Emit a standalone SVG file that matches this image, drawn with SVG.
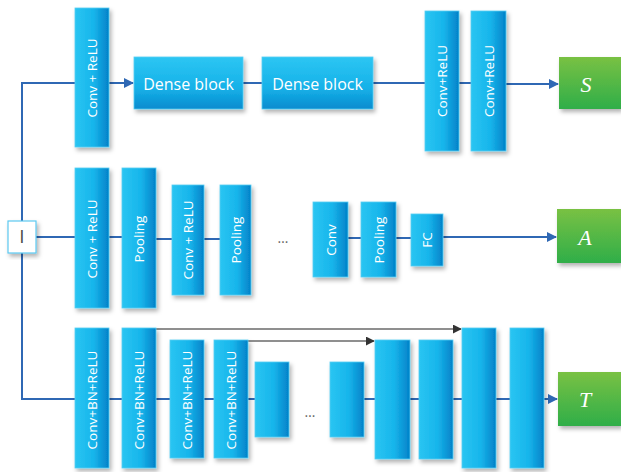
<svg xmlns="http://www.w3.org/2000/svg" width="621" height="472" viewBox="0 0 621 472">
  <defs>
    <linearGradient id="gBar" x1="0" y1="0" x2="1" y2="0">
      <stop offset="0" stop-color="#2ac5f2"/>
      <stop offset="0.55" stop-color="#17b5eb"/>
      <stop offset="1" stop-color="#0381c8"/>
    </linearGradient>
    <linearGradient id="gDense" x1="0" y1="0" x2="0" y2="1">
      <stop offset="0" stop-color="#2cc6f3"/>
      <stop offset="0.6" stop-color="#16b1e8"/>
      <stop offset="1" stop-color="#068bcf"/>
    </linearGradient>
    <linearGradient id="gOut" x1="0" y1="0" x2="0" y2="1">
      <stop offset="0" stop-color="#79c143"/>
      <stop offset="1" stop-color="#2fae48"/>
    </linearGradient>
    <filter id="shadow" x="-20%" y="-10%" width="150%" height="130%">
      <feDropShadow dx="2" dy="3" stdDeviation="2" flood-color="#000" flood-opacity="0.3"/>
    </filter>
    <marker id="arrBlue" viewBox="0 0 10 10" refX="9" refY="5" markerWidth="5" markerHeight="5" orient="auto" markerUnits="strokeWidth">
      <path d="M0,0 L10,5 L0,10 z" fill="#2f68b4"/>
    </marker>
    <marker id="arrDark" viewBox="0 0 10 10" refX="9" refY="5" markerWidth="6" markerHeight="6" orient="auto" markerUnits="strokeWidth">
      <path d="M0,0 L10,5 L0,10 z" fill="#333"/>
    </marker>
  </defs>
  <style>
    .bar { fill: url(#gBar); stroke: #55cdf3; stroke-width: 0.8; filter: url(#shadow); }
    .dense { fill: url(#gDense); stroke: #55cdf3; stroke-width: 0.8; filter: url(#shadow); }
    .out { fill: url(#gOut); filter: url(#shadow); }
    .lbl { font-family: "Open Sans", "Noto Sans", sans-serif; font-size: 13.5px; fill: #fff; text-anchor: middle; dominant-baseline: central; }
    .dlbl { font-family: "Open Sans", "Noto Sans", sans-serif; font-size: 16px; fill: #fff; text-anchor: middle; dominant-baseline: central; }
    .olbl { font-family: "Liberation Serif", "DejaVu Serif", serif; font-style: italic; font-size: 22px; fill: #fff; text-anchor: middle; dominant-baseline: central; }
    .dots { font-family: "Open Sans", sans-serif; font-size: 14px; fill: #666; text-anchor: middle; }
    .wire { fill: none; stroke: #2f68b4; stroke-width: 2; }
    .skip { fill: none; stroke: #6a6a6a; stroke-width: 1.5; }
  </style>

  <!-- connectors -->
  <g id="connectors">
    <path class="wire" d="M22,221 V83 H75"/>
    <path class="wire" d="M109,83 H133" marker-end="url(#arrBlue)"/>
    <path class="wire" d="M243,83 H262"/>
    <path class="wire" d="M373,83 H425"/>
    <path class="wire" d="M459,83 H471"/>
    <path class="wire" d="M506,84 H558" marker-end="url(#arrBlue)"/>

    <path class="wire" d="M36,237 H75"/>
    <path class="wire" d="M109,237 H122"/>
    <path class="wire" d="M156,239 H172"/>
    <path class="wire" d="M204,239 H220"/>
    <path class="wire" d="M348,238 H361"/>
    <path class="wire" d="M396,238 H411"/>
    <path class="wire" d="M443,237 H556" marker-end="url(#arrBlue)"/>

    <path class="wire" d="M22,253 V399 H75"/>
    <path class="wire" d="M109,399 H122"/>
    <path class="wire" d="M156,399 H170"/>
    <path class="wire" d="M204,399 H214"/>
    <path class="wire" d="M248,399 H255"/>
    <path class="wire" d="M364,399 H375"/>
    <path class="wire" d="M410,399 H419"/>
    <path class="wire" d="M453,399 H462"/>
    <path class="wire" d="M496,399 H510"/>
    <path class="wire" d="M544,399 H557" marker-end="url(#arrBlue)"/>

    <path class="skip" d="M139,329 H461" marker-end="url(#arrDark)"/>
    <path class="skip" d="M232,341 H374" marker-end="url(#arrDark)"/>
  </g>

  <!-- input -->
  <g id="input">
    <rect x="8" y="221" width="28" height="32" fill="#fff" stroke="#5cc9f0" stroke-width="1.2" filter="url(#shadow)"/>
    <text x="22" y="236" font-family="Open Sans, sans-serif" font-size="19" fill="#4a4a4a" text-anchor="middle" dominant-baseline="central">I</text>
  </g>

  <!-- top branch -->
  <g id="s-conv1">
    <rect class="bar" x="75" y="8" width="34" height="139"/>
    <text class="lbl" transform="translate(92,78) rotate(-90)">Conv + ReLU</text>
  </g>
  <g id="s-dense1">
    <rect class="dense" x="134" y="57" width="109" height="52"/>
    <text class="dlbl" x="188.5" y="84">Dense block</text>
  </g>
  <g id="s-dense2">
    <rect class="dense" x="262" y="57" width="111" height="52"/>
    <text class="dlbl" x="317.5" y="84">Dense block</text>
  </g>
  <g id="s-conv2">
    <rect class="bar" x="425" y="11" width="34" height="140"/>
    <text class="lbl" transform="translate(442,81) rotate(-90)">Conv+ReLU</text>
  </g>
  <g id="s-conv3">
    <rect class="bar" x="471" y="11" width="35" height="140"/>
    <text class="lbl" transform="translate(488.5,81) rotate(-90)">Conv+ReLU</text>
  </g>
  <g id="out-s">
    <rect class="out" x="559" y="57" width="62" height="52"/>
    <text class="olbl" x="586" y="84">S</text>
  </g>

  <!-- middle branch -->
  <g id="a-conv1">
    <rect class="bar" x="75" y="168" width="34" height="140"/>
    <text class="lbl" transform="translate(92,239) rotate(-90)">Conv + ReLU</text>
  </g>
  <g id="a-pool1">
    <rect class="bar" x="122" y="168" width="34" height="140"/>
    <text class="lbl" transform="translate(139,239) rotate(-90)">Pooling</text>
  </g>
  <g id="a-conv2">
    <rect class="bar" x="172" y="185" width="32" height="110"/>
    <text class="lbl" transform="translate(188,240) rotate(-90)">Conv + ReLU</text>
  </g>
  <g id="a-pool2">
    <rect class="bar" x="220" y="185" width="31" height="110"/>
    <text class="lbl" transform="translate(235.5,240) rotate(-90)">Pooling</text>
  </g>
  <text class="dots" x="283" y="243">…</text>
  <g id="a-conv3">
    <rect class="bar" x="313" y="202" width="35" height="75"/>
    <text class="lbl" transform="translate(330.5,240) rotate(-90)">Conv</text>
  </g>
  <g id="a-pool3">
    <rect class="bar" x="361" y="202" width="35" height="75"/>
    <text class="lbl" transform="translate(378.5,240) rotate(-90)">Pooling</text>
  </g>
  <g id="a-fc">
    <rect class="bar" x="411" y="214" width="32" height="52"/>
    <text class="lbl" transform="translate(427,240) rotate(-90)">FC</text>
  </g>
  <g id="out-a">
    <rect class="out" x="557" y="209" width="64" height="54"/>
    <text class="olbl" x="585" y="237">A</text>
  </g>

  <!-- bottom branch -->
  <g id="t-enc1">
    <rect class="bar" x="75" y="328" width="34" height="140"/>
    <text class="lbl" transform="translate(92,400) rotate(-90)">Conv+BN+ReLU</text>
  </g>
  <g id="t-enc2">
    <rect class="bar" x="122" y="328" width="34" height="140"/>
    <text class="lbl" transform="translate(139,400) rotate(-90)">Conv+BN+ReLU</text>
  </g>
  <g id="t-enc3">
    <rect class="bar" x="170" y="340" width="34" height="118"/>
    <text class="lbl" transform="translate(187,400) rotate(-90)">Conv+BN+ReLU</text>
  </g>
  <g id="t-enc4">
    <rect class="bar" x="214" y="340" width="34" height="118"/>
    <text class="lbl" transform="translate(231,400) rotate(-90)">Conv+BN+ReLU</text>
  </g>
  <g id="t-enc5">
    <rect class="bar" x="255" y="362" width="34" height="75"/>
  </g>
  <text class="dots" x="310" y="417">…</text>
  <g id="t-dec1">
    <rect class="bar" x="330" y="362" width="34" height="75"/>
  </g>
  <g id="t-dec2">
    <rect class="bar" x="375" y="340" width="35" height="119"/>
  </g>
  <g id="t-dec3">
    <rect class="bar" x="419" y="340" width="34" height="119"/>
  </g>
  <g id="t-dec4">
    <rect class="bar" x="462" y="328" width="34" height="140"/>
  </g>
  <g id="t-dec5">
    <rect class="bar" x="510" y="328" width="34" height="140"/>
  </g>
  <g id="out-t">
    <rect class="out" x="558" y="372" width="63" height="54"/>
    <text class="olbl" x="585" y="399">T</text>
  </g>
</svg>
